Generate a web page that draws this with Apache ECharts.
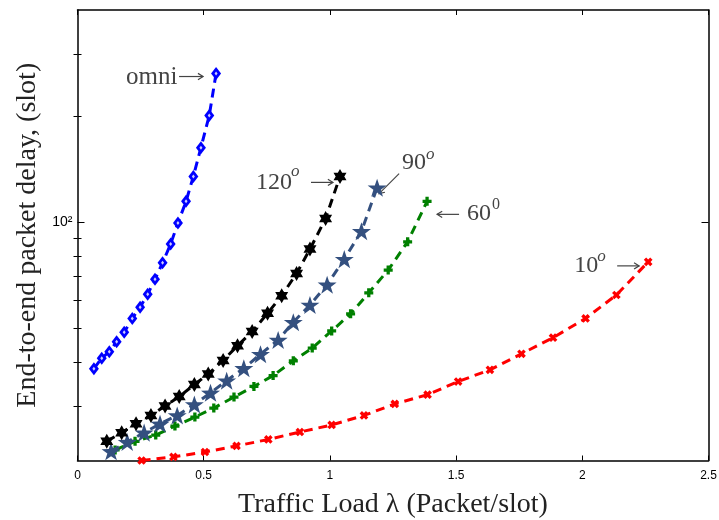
<!DOCTYPE html>
<html>
<head>
<meta charset="utf-8">
<script src="https://cdn.jsdelivr.net/npm/echarts@6/dist/echarts.min.js"></script>
<style>html,body{margin:0;padding:0;background:#fff}#c{width:719px;height:520px}</style>
</head>
<body>
<div id="c"></div>
<script>
// ---- data ----
const omniX = [0.065,0.096,0.126,0.155,0.185,0.217,0.248,0.278,0.307,0.337,0.369,0.398,0.430,0.459,0.489,0.522,0.549];
const omniY = [38.3,41.0,42.8,45.7,48.6,53.2,57.2,62.3,68.7,76.5,86.5,99.3,114.4,134.7,162.5,200.6,264];
const deg120X = [0.116,0.175,0.232,0.291,0.347,0.403,0.463,0.518,0.577,0.634,0.692,0.753,0.809,0.868,0.921,0.983,1.040];
const deg120Y = [23.8,25.2,26.7,28.2,30.0,31.9,34.5,37.0,40.4,44.5,48.8,55.0,61.7,71.4,83.7,102.2,134.7];
const deg90X = [0.133,0.197,0.264,0.327,0.395,0.463,0.527,0.591,0.659,0.725,0.795,0.855,0.921,0.989,1.057,1.125,1.187];
const deg90Y = [22.3,23.7,25.2,26.7,28.2,30.3,32.7,35.4,38.4,42.1,46.2,51.9,58.1,66.3,78.4,94.1,125.1];
const deg60X = [0.149,0.228,0.310,0.386,0.465,0.540,0.620,0.699,0.775,0.855,0.930,1.007,1.082,1.154,1.231,1.308,1.385];
const deg60Y = [22.5,23.8,24.8,26.3,27.9,29.6,31.8,34.1,36.6,40.3,43.8,49.0,54.8,62.9,73.0,87.8,114.4];
const deg10X = [0.254,0.380,0.505,0.630,0.756,0.881,1.007,1.135,1.257,1.387,1.508,1.634,1.759,1.884,2.013,2.135,2.261];
const deg10Y = [21.0,21.5,22.2,23.1,24.1,25.3,26.5,28.2,30.4,32.3,35.2,38.0,42.2,46.9,53.2,62.0,77.0];

const xTicks = [0, 0.5, 1, 1.5, 2, 2.5];
const yMajorTicks = [100];
const yMajorLabels = ['10²'];
const yMinorTicks = [30,40,50,60,70,80,90,200,300];
const xMin = 0, xMax = 2.5, yMin = 21, yMax = 400;

// ---- marker shapes ----
function starPath(){
  let p = '';
  for (let k = 0; k < 10; k++) {
    const a = (-90 + 36*k) * Math.PI/180;
    const r = (k % 2 === 0) ? 10 : 3.9;
    p += (k===0?'M':'L') + (r*Math.cos(a)).toFixed(2) + ',' + (r*Math.sin(a)).toFixed(2);
  }
  return 'path://' + p + 'Z';
}
const hexagram = 'path://M0,-10L8.66,5L-8.66,5Z M0,10L-8.66,-5L8.66,-5Z';
const plus = 'path://M-2.2,-6H2.2V-2.2H6V2.2H2.2V6H-2.2V2.2H-6V-2.2H-2.2Z';

const pairs = (xs, ys) => xs.map((x,i)=>[x, ys[i]]);
function mkSeries(name, xs, ys, color, symbol, size, extra){
  return Object.assign({
    name, type:'line', data: pairs(xs, ys),
    symbol, symbolSize: size, showSymbol: true, symbolKeepAspect: true,
    lineStyle: {color, width: 3, type: [9,6]},
    itemStyle: {color},
    silent: true, animation: false, clip: false
  }, extra || {});
}

const chart = echarts.init(document.getElementById('c'), null, {renderer:'canvas'});
const axisLineStyle = {color:'#000', width:1.5};
const baseY = {type:'log', logBase:10, min:yMin, max:yMax, splitLine:{show:false}};
const option = {
  backgroundColor:'#fff',
  animation:false,
  grid:{left:77.5, right:10.5, top:10, bottom:59.5, containLabel:false, outerBoundsMode:'none'},
  xAxis:[
    {type:'value', min:xMin, max:xMax, interval:0.5, position:'bottom',
     axisLine:{show:true, onZero:false, lineStyle:axisLineStyle},
     axisTick:{show:true, inside:true, length:5, lineStyle:{color:'#000', width:1}},
     axisLabel:{show:true, color:'#000', fontFamily:'Liberation Sans', fontSize:12, margin:9,
       formatter:v=>String(v)},
     splitLine:{show:false},
     name:'Traffic Load λ (Packet/slot)', nameLocation:'middle', nameGap:30,
     nameTextStyle:{fontFamily:'Liberation Serif', fontSize:28, color:'#222', verticalAlign:'top'}},
    {type:'value', min:xMin, max:xMax, interval:0.5, position:'top',
     axisLine:{show:true, onZero:false, lineStyle:axisLineStyle},
     axisTick:{show:true, inside:true, length:5, lineStyle:{color:'#000', width:1}},
     axisLabel:{show:false}, splitLine:{show:false}}
  ],
  yAxis:[
    Object.assign({}, baseY, {position:'left',
      axisLine:{show:true, onZero:false, lineStyle:axisLineStyle},
      axisTick:{show:true, inside:true, length:7, customValues:yMajorTicks, lineStyle:{color:'#000', width:1}},
      axisLabel:{show:true, customValues:yMajorTicks, margin:5, color:'#000',
        fontFamily:'Liberation Sans', fontSize:16,
        formatter:v=>'{a|' + (yMajorLabels[yMajorTicks.indexOf(Math.round(v))] || '') + '}',
        rich:{a:{fontFamily:'Liberation Sans', fontSize:14, color:'#000'}}},
      name:'End-to-end packet delay, (slot)', nameLocation:'middle', nameGap:31, nameRotate:90,
      nameTextStyle:{fontFamily:'Liberation Serif', fontSize:28, color:'#222'}}),
    Object.assign({}, baseY, {position:'left',
      axisLine:{show:false}, axisLabel:{show:false},
      axisTick:{show:true, inside:true, length:4, customValues:yMinorTicks, lineStyle:{color:'#000', width:1}}}),
    Object.assign({}, baseY, {position:'right',
      axisLine:{show:true, onZero:false, lineStyle:axisLineStyle}, axisLabel:{show:false},
      axisTick:{show:true, inside:true, length:7, customValues:yMajorTicks, lineStyle:{color:'#000', width:1}}}),
    Object.assign({}, baseY, {position:'right',
      axisLine:{show:false}, axisLabel:{show:false},
      axisTick:{show:true, inside:true, length:4, customValues:yMinorTicks, lineStyle:{color:'#000', width:1}}})
  ],
  series:[
    mkSeries('10°', deg10X, deg10Y, '#ff0000', plus, 9, {symbolRotate:45, z:2}),
    mkSeries('60°', deg60X, deg60Y, '#008000', plus, 9, {z:3}),
    mkSeries('90°', deg90X, deg90Y, '#34507f', starPath(), 19, {z:4}),
    mkSeries('120°', deg120X, deg120Y, '#000000', hexagram, 15, {z:5}),
    mkSeries('omni', omniX, omniY, '#0000ff', 'diamond', [10,13], {symbolKeepAspect:false, z:6}),
    {name:'omni-centre', type:'scatter', data:pairs(omniX, omniY), symbol:'diamond', symbolSize:[3,4],
     itemStyle:{color:'#ffffff'}, silent:true, animation:false, z:7}
  ]
};
chart.setOption(option);

// ---- annotations anchored to each curve's last point ----
const annColor = '#444';
const serif = 'Liberation Serif';
function last(xs, ys){ return chart.convertToPixel({xAxisIndex:0, yAxisIndex:0}, [xs[xs.length-1], ys[ys.length-1]]); }
function txt(p, dx, dy, s, size, style){
  return {type:'text', x:p[0]+dx, y:p[1]+dy, silent:true,
    style:{text:s, fill:annColor, font:(style||'') + ' ' + size + 'px "' + serif + '"', textAlign:'left', textVerticalAlign:'middle'}};
}
function arrow(p, x1, y1, x2, y2){ // arrow pointing toward (x2,y2), offsets from p
  const ax = p[0]+x1, ay = p[1]+y1, bx = p[0]+x2, by = p[1]+y2;
  const ang = Math.atan2(by-ay, bx-ax), h = 6, w = 0.55;
  return [
    {type:'line', silent:true, shape:{x1:ax, y1:ay, x2:bx, y2:by}, style:{stroke:annColor, lineWidth:1.2}},
    {type:'polyline', silent:true, shape:{points:[
      [bx - h*Math.cos(ang-w), by - h*Math.sin(ang-w)], [bx, by],
      [bx - h*Math.cos(ang+w), by - h*Math.sin(ang+w)]]}, style:{stroke:annColor, lineWidth:1.2, fill:null}}
  ];
}
const pO = last(omniX, omniY), p120 = last(deg120X, deg120Y), p90 = last(deg90X, deg90Y),
      p60 = last(deg60X, deg60Y), p10 = last(deg10X, deg10Y);
const g = [];
g.push(txt(pO, -90, 4, 'omni', 25));
g.push(...arrow(pO, -37, 3, -13, 3));
g.push(txt(p120, -84, 6, '120', 24));
g.push(txt(p120, -49, -5, 'o', 17, 'italic'));
g.push(...arrow(p120, -29, 6, -7, 6));
g.push(txt(p90, 25, -25, '90', 24));
g.push(txt(p90, 49, -33, 'o', 17, 'italic'));
g.push(...arrow(p90, 22, -14, 2, 6));
g.push(...arrow(p60, 32, 13, 10, 13));
g.push(txt(p60, 40, 12, '60', 24));
g.push(txt(p60, 65, 3, '0', 16));
g.push(txt(p10, -74, 4, '10', 24));
g.push(txt(p10, -51, -5, 'o', 17, 'italic'));
g.push(...arrow(p10, -31, 4, -9, 4));
chart.setOption({graphic:g});
</script>
</body>
</html>
